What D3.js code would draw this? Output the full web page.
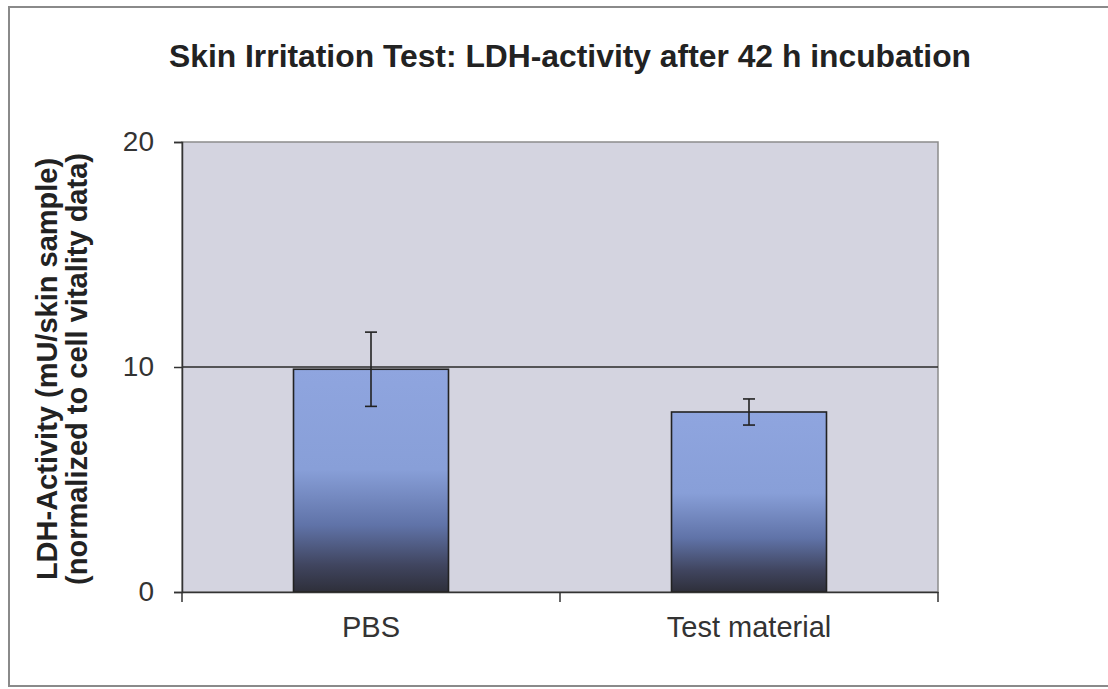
<!DOCTYPE html>
<html>
<head>
<meta charset="utf-8">
<script src="https://cdn.jsdelivr.net/npm/d3@7.9.0/dist/d3.min.js"></script>
<style>
  body { margin: 0; background: #fff; }
  svg { display: block; font-family: "Liberation Sans", Arial, sans-serif; }
</style>
</head>
<body>
<svg id="chart" width="1108" height="689"></svg>
<script>
// data
const categories = ['PBS', 'Test material'];
const means = [9.9, 8.0];
const errors = [1.65, 0.58];
const yTicks = [0, 10, 20];

const svg = d3.select('#chart');
const margin = { left: 182, right: 170, top: 142, bottom: 97 };
const W = 1108, H = 689;
const innerW = W - margin.left - margin.right;
const innerH = H - margin.top - margin.bottom;

// outer frame
svg.append('rect')
  .attr('x', 9).attr('y', 7)
  .attr('width', 1120).attr('height', 679)
  .attr('fill', 'none').attr('stroke', '#8a8a8a').attr('stroke-width', 2);

svg.append('text')
  .attr('x', 570).attr('y', 67)
  .attr('text-anchor', 'middle')
  .attr('font-size', 31).attr('font-weight', 'bold')
  .attr('fill', '#222')
  .attr('textLength', 802).attr('lengthAdjust', 'spacingAndGlyphs')
  .text('Skin Irritation Test: LDH-activity after 42 h incubation');

const x = d3.scaleBand()
  .domain(categories)
  .range([0, innerW])
  .paddingInner(0.59)
  .paddingOuter(0.295);

const y = d3.scaleLinear().domain([0, 20]).range([innerH, 0]);

const defs = svg.append('defs');
const grad = defs.append('linearGradient')
  .attr('id', 'barGrad')
  .attr('x1', 0).attr('y1', 0).attr('x2', 0).attr('y2', 1);
[[0, '#8fa5df'], [0.45, '#889fd8'], [0.7, '#6073a8'], [0.88, '#40455f'], [1, '#2e2f3a']]
  .forEach(([o, c]) => grad.append('stop').attr('offset', o).attr('stop-color', c));

const g = svg.append('g').attr('transform', `translate(${margin.left},${margin.top})`);

// plot area
g.append('rect')
  .attr('width', innerW).attr('height', innerH)
  .attr('fill', '#d4d4e0')
  .attr('stroke', '#8c8c8c').attr('stroke-width', 1.5);

// gridlines
g.selectAll('.grid')
  .data(yTicks.filter(d => d > 0 && d < 20))
  .enter().append('line')
  .attr('x1', 0).attr('x2', innerW)
  .attr('y1', d => y(d)).attr('y2', d => y(d))
  .attr('stroke', '#2a2a2a').attr('stroke-width', 1.3);

// bars
g.selectAll('.bar')
  .data(categories)
  .enter().append('rect')
  .attr('x', d => x(d))
  .attr('width', x.bandwidth())
  .attr('y', (d, i) => y(means[i]))
  .attr('height', (d, i) => innerH - y(means[i]))
  .attr('fill', 'url(#barGrad)')
  .attr('stroke', '#222').attr('stroke-width', 1.6);

// error bars
const eb = g.selectAll('.err')
  .data(categories)
  .enter().append('g')
  .attr('stroke', '#222').attr('stroke-width', 1.6);
const cx = d => x(d) + x.bandwidth() / 2;
eb.append('line')
  .attr('x1', cx).attr('x2', cx)
  .attr('y1', (d, i) => y(means[i] + errors[i]))
  .attr('y2', (d, i) => y(means[i] - errors[i]));
eb.append('line')
  .attr('x1', d => cx(d) - 6).attr('x2', d => cx(d) + 6)
  .attr('y1', (d, i) => y(means[i] + errors[i]))
  .attr('y2', (d, i) => y(means[i] + errors[i]));
eb.append('line')
  .attr('x1', d => cx(d) - 6).attr('x2', d => cx(d) + 6)
  .attr('y1', (d, i) => y(means[i] - errors[i]))
  .attr('y2', (d, i) => y(means[i] - errors[i]));

// y axis
const yAxis = g.append('g')
  .call(d3.axisLeft(y).tickValues(yTicks).tickSize(8).tickPadding(20));
yAxis.select('.domain').attr('stroke', '#333').attr('stroke-width', 1.5);
yAxis.selectAll('.tick line').attr('stroke', '#333').attr('stroke-width', 1.5);
yAxis.selectAll('.tick text')
  .attr('font-size', 28).attr('fill', '#333')
  .attr('font-family', '"Liberation Sans", Arial, sans-serif');

// x axis
const xAxis = g.append('g')
  .attr('transform', `translate(0,${innerH})`)
  .call(d3.axisBottom(x).tickSize(0).tickPadding(24));
xAxis.select('.domain').attr('stroke', '#333').attr('stroke-width', 1.5);
xAxis.selectAll('.tick text')
  .attr('font-size', 29).attr('fill', '#333')
  .attr('font-family', '"Liberation Sans", Arial, sans-serif');
// category separators
g.selectAll('.xsep')
  .data([0, x.step(), innerW])
  .enter().append('line')
  .attr('x1', d => d).attr('x2', d => d)
  .attr('y1', innerH).attr('y2', innerH + 10)
  .attr('stroke', '#333').attr('stroke-width', 1.5);

// y label
const yl = svg.append('text')
  .attr('transform', `translate(57,${margin.top + innerH / 2 + 2}) rotate(-90)`)
  .attr('text-anchor', 'middle')
  .attr('font-size', 29).attr('font-weight', 'bold').attr('fill', '#222');
yl.append('tspan').attr('x', 0).attr('dy', 0).text('LDH-Activity (mU/skin sample)');
yl.append('tspan').attr('x', 0).attr('dy', 30).text('(normalized to cell vitality data)');
</script>
</body>
</html>
